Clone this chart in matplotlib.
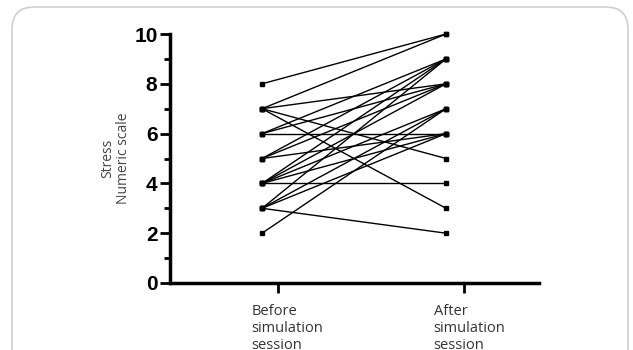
import matplotlib
matplotlib.use("Agg")
import matplotlib.pyplot as plt
import matplotlib.transforms as mtransforms
from matplotlib.patches import FancyBboxPatch

# paired stress scores (before -> after)
before = [8, 7, 7, 7, 7, 6, 6, 6, 5, 5, 5, 4, 4, 4, 4, 4, 3, 3, 3, 3, 2]
after = [10, 10, 8, 5, 3, 6, 8, 9, 9, 8, 6, 9, 8, 7, 6, 4, 9, 7, 6, 2, 7]
group_labels = ["Before\nsimulation\nsession", "After\nsimulation\nsession"]
y_label = "Stress\nNumeric scale"

fig = plt.figure(figsize=(6.33, 3.5), dpi=100)

# rounded frame around the figure
frame = FancyBboxPatch((12 / 633, -0.2), 616 / 633, 1.18, transform=fig.transFigure,
                       boxstyle="round,pad=0,rounding_size=0.035",
                       fc="none", ec="#cfcfcf", lw=1.2, mutation_aspect=633 / 350)
fig.patches.append(frame)

ax = fig.add_axes([170 / 633, 1 - 283 / 350, 369 / 633, 249 / 350])

for b, a in zip(before, after):
    ax.plot([0, 1], [b, a], color="black", lw=1.0, marker="s", ms=3.5,
            mfc="black", mec="black", clip_on=False)

ax.set_xlim(-0.5, 1.505)
ax.set_ylim(0, 10)

ax.spines["top"].set_visible(False)
ax.spines["right"].set_visible(False)
ax.spines["left"].set_linewidth(2.5)
ax.spines["bottom"].set_linewidth(2.5)

ax.set_yticks([0, 2, 4, 6, 8, 10])
ax.set_yticks([1, 3, 5, 7, 9], minor=True)
ax.tick_params(axis="y", which="major", length=7, width=2, direction="out", pad=2)
ax.tick_params(axis="y", which="minor", length=4, width=2, direction="out")
for lab in ax.get_yticklabels():
    lab.set_family(["Liberation Sans Narrow", "Liberation Sans", "DejaVu Sans"])
    lab.set_fontweight("bold")
    lab.set_fontsize(15)

ax.set_xticks([0.087, 1.10])
ax.set_xticklabels(group_labels, fontsize=10.5, color="#333333",
                   family=["Open Sans", "DejaVu Sans"], linespacing=1.2,
                   multialignment="left")
ax.tick_params(axis="x", length=7, width=2, direction="out", pad=8)
# shift the group labels a little to the right, like the original
for lab, dx in zip(ax.get_xticklabels(), [9, 5]):
    lab.set_transform(lab.get_transform() +
                      mtransforms.ScaledTranslation(dx / 100, 0, fig.dpi_scale_trans))

ax.set_ylabel(y_label, fontsize=10, color="#444444",
              family=["Open Sans", "DejaVu Sans"], labelpad=2, linespacing=1.1)

fig.savefig("out.png", dpi=100)
